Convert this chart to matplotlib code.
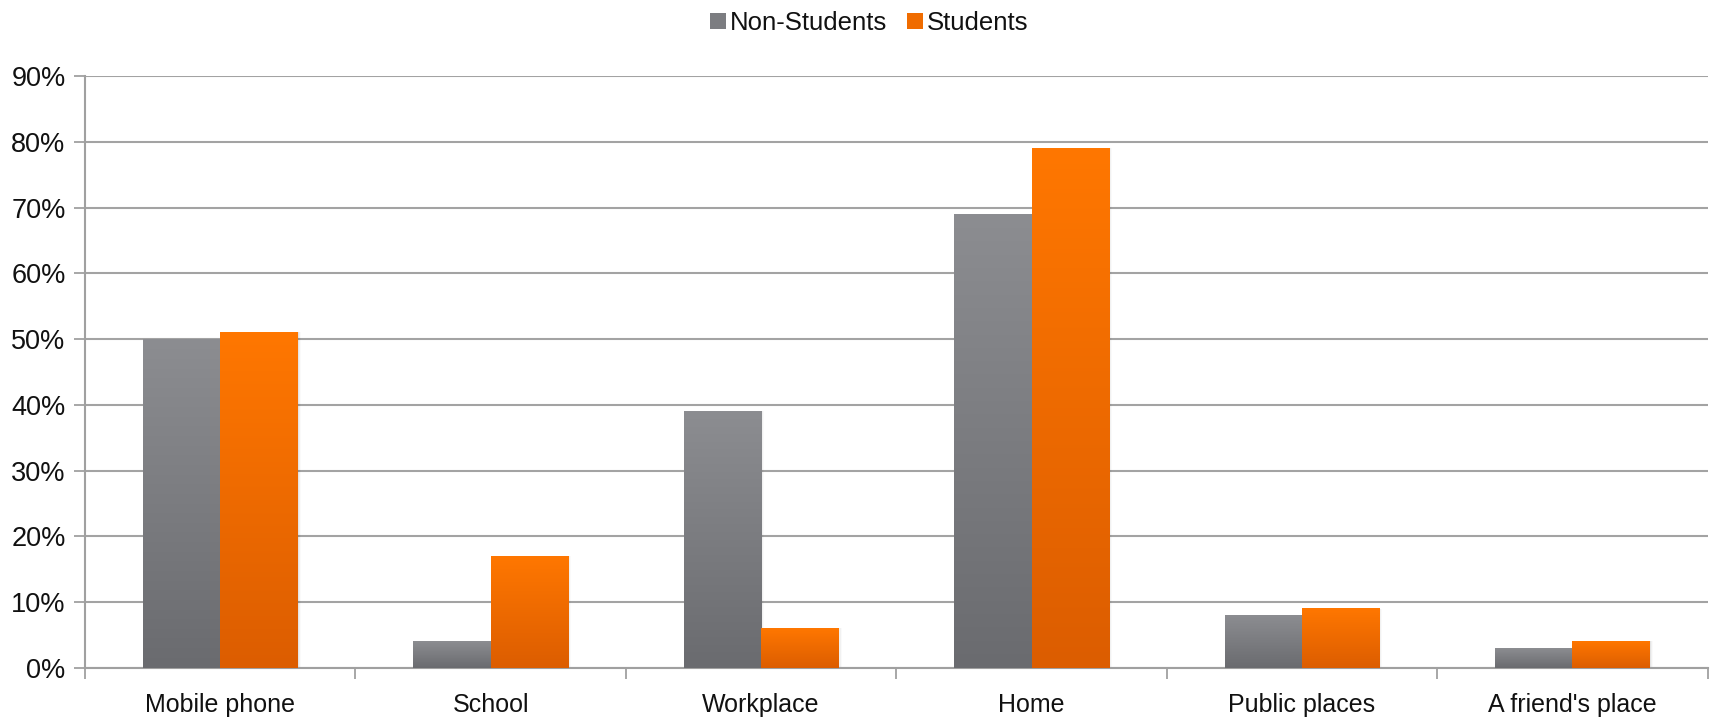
import numpy as np
import matplotlib
matplotlib.use("Agg")
import matplotlib.pyplot as plt
from matplotlib.colors import LinearSegmentedColormap
from matplotlib.ticker import PercentFormatter
from matplotlib.patches import Patch

categories = ["Mobile phone", "School", "Workplace", "Home", "Public places", "A friend's place"]
non_students = [50, 4, 39, 69, 8, 3]
students = [51, 17, 6, 79, 9, 4]
series_names = ["Non-Students", "Students"]

plt.rcParams['font.family'] = ['Liberation Sans', 'DejaVu Sans']

fig = plt.figure(figsize=(17.11, 7.18), dpi=100)
ax = fig.add_axes([0.0497, 0.070, 0.9483, 0.824])

gray_cmap = LinearSegmentedColormap.from_list("g", ["#6a6b6f", "#8c8d91"])
orange_cmap = LinearSegmentedColormap.from_list("o", ["#dc5d00", "#ff7700"])

x = np.arange(len(categories))
width = 0.2857
grad = np.linspace(0, 1, 256).reshape(-1, 1)

for vals, offset, cmap in [(non_students, -width / 2, gray_cmap), (students, width / 2, orange_cmap)]:
    bars = ax.bar(x + offset, vals, width, color='none', edgecolor='none', zorder=3)
    for b in bars:
        x0, y0 = b.get_x(), b.get_y()
        w, h = b.get_width(), b.get_height()
        # soft shadow
        for k, a in enumerate([0.05, 0.035, 0.02]):
            d = 0.004 * (k + 1)
            ax.bar(x0 + w / 2 + d, h + 0.15 * (k + 1), w, bottom=y0 - 0.15 * (k + 1),
                   color='#000000', alpha=a, zorder=2, linewidth=0)
        ax.imshow(grad, cmap=cmap, origin='lower', aspect='auto',
                  extent=[x0, x0 + w, y0, y0 + h], zorder=3)

ax.set_xlim(-0.5, len(categories) - 0.5)
ax.set_ylim(0, 90)
ax.yaxis.set_major_formatter(PercentFormatter(decimals=0))
ax.set_yticks(np.arange(0, 91, 10))
ax.set_xticks(x)
ax.set_xticklabels(categories)
ax.set_xticks(np.arange(-0.5, len(categories), 1), minor=True)
ax.tick_params(axis='x', which='major', length=0, pad=18, labelsize=18, labelcolor='#111111')
ax.tick_params(axis='x', which='minor', length=8, color='#a0a0a0', width=1.3, direction='out')
ax.tick_params(axis='y', length=8, color='#a0a0a0', width=1.3, labelsize=19.5, pad=6,
               labelcolor='#111111')
ax.grid(True, axis='y', color='#a3a3a3', linewidth=1.5, zorder=0)
ax.set_axisbelow(True)

for side in ['top', 'right']:
    ax.spines[side].set_visible(False)
ax.spines['left'].set_color('#a0a0a0')
ax.spines['left'].set_linewidth(1.5)
ax.spines['bottom'].set_color('#a0a0a0')
ax.spines['bottom'].set_linewidth(1.5)

handles = [Patch(facecolor='#7c7d81'), Patch(facecolor='#f06c00')]
fig.legend(handles, series_names, loc='center', bbox_to_anchor=(0.508, 0.968), ncol=2,
           frameon=False, fontsize=18.5, handlelength=0.6, handleheight=0.6,
           handletextpad=0.15, columnspacing=0.8, labelcolor='#111111')

fig.savefig("out.png", dpi=100)
